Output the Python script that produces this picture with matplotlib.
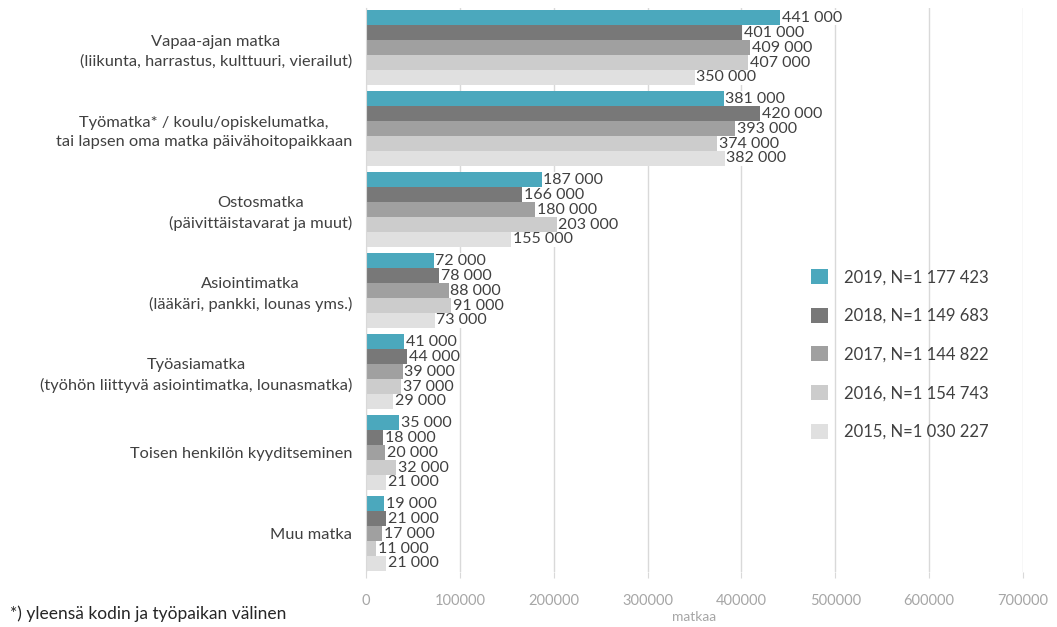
import numpy as np
import matplotlib
matplotlib.use('Agg')
import matplotlib.pyplot as plt

plt.rcParams['font.family'] = ['Lato', 'DejaVu Sans']

# data (trips, from the picture)
categories = ['Vapaa-ajan matka\n(liikunta, harrastus, kulttuuri, vierailut)',
              'Työmatka* / koulu/opiskelumatka,\ntai lapsen oma matka päivähoitopaikkaan',
              'Ostosmatka\n(päivittäistavarat ja muut)',
              'Asiointimatka\n(lääkäri, pankki, lounas yms.)',
              'Työasiamatka\n(työhön liittyvä asiointimatka, lounasmatka)',
              'Toisen henkilön kyyditseminen',
              'Muu matka']
years = ['2019, N=1 177 423', '2018, N=1 149 683', '2017, N=1 144 822',
         '2016, N=1 154 743', '2015, N=1 030 227']
v2019 = [441000, 381000, 187000, 72000, 41000, 35000, 19000]
v2018 = [401000, 420000, 166000, 78000, 44000, 18000, 21000]
v2017 = [409000, 393000, 180000, 88000, 39000, 20000, 17000]
v2016 = [407000, 374000, 203000, 91000, 37000, 32000, 11000]
v2015 = [350000, 382000, 155000, 73000, 29000, 21000, 21000]
series = [v2019, v2018, v2017, v2016, v2015]
colors = ['#4ba8bd', '#787878', '#a0a0a0', '#cccccc', '#e0e0e0']
xticks = [0, 100000, 200000, 300000, 400000, 500000, 600000, 700000]

fig = plt.figure(figsize=(10.57, 6.27), dpi=100)
ax = fig.add_axes([366/1057, 55/627, 657/1057, 564/627])

bh = 0.185
y = np.arange(len(categories))
for k, vals in enumerate(series):
    pos = y - 2*bh + k*bh
    ax.barh(pos, vals, height=bh, color=colors[k], label=years[k], zorder=2)
    for p, v in zip(pos, vals):
        lab = f'{v:,}'.replace(',', ' ')
        ax.text(v + 2000, p, lab, va='center', ha='left', fontsize=11.5,
                color='#404040', zorder=3,
                bbox=dict(facecolor='white', edgecolor='none', pad=0.2))

ax.set_xlim(0, 700000)
ax.set_ylim(6.475, -0.488)
ax.set_yticks(y)
ax.set_yticklabels(categories, fontsize=11.8, color='#404040', linespacing=1.45)
for t in ax.get_yticklabels():
    t.set_multialignment('center')
ax.tick_params(axis='y', length=0, pad=10)
ax.set_xticks(xticks)
ax.set_xticklabels([str(x) for x in xticks], fontsize=10.5, color='#a6a6a6')
ax.tick_params(axis='x', length=4, color='#d9d9d9', pad=12)
ax.grid(axis='x', color='#d9d9d9', linewidth=1, zorder=0)
for s in ['top', 'right', 'bottom']:
    ax.spines[s].set_visible(False)
ax.spines['left'].set_color('#d9d9d9')
ax.set_xlabel('matkaa', fontsize=10, color='#a6a6a6', labelpad=2)

leg = ax.legend(loc='upper left', bbox_to_anchor=(796/1057, 1 - 254/627),
                bbox_transform=fig.transFigure, frameon=False, fontsize=12,
                handlelength=1.0, handleheight=1.0, labelspacing=1.35,
                handletextpad=1.0)
for t in leg.get_texts():
    t.set_color('#404040')

fig.text(10/1057, 1 - 614/627, '*) yleensä kodin ja työpaikan välinen',
         fontsize=12.5, color='#262626', va='center', ha='left')

fig.savefig('out.png', dpi=100)
